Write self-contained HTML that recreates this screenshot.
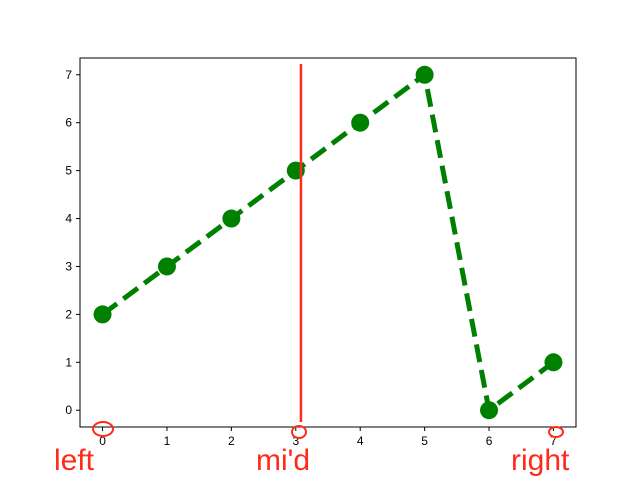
<!DOCTYPE html>
<html><head><meta charset="utf-8"><style>
body{margin:0;background:#fff}
svg text{font-family:"Liberation Sans","DejaVu Sans",sans-serif}
</style></head><body>
<svg width="640" height="480" viewBox="0 0 640 480">
<rect width="640" height="480" fill="#fff"/>
<g id="plot"></g>
</svg>
<script>
const xValues=[0,1,2,3,4,5,6,7];
const yValues=[2,3,4,5,6,7,0,1];
const xTicks=[0,1,2,3,4,5,6,7];
const yTicks=[0,1,2,3,4,5,6,7];
const vlineX=3.08;
const L=80,R=576,T=58,B=427;
const xmin=-0.35,xmax=7.35,ymin=-0.35,ymax=7.35;
const sx=v=>L+(v-xmin)/(xmax-xmin)*(R-L);
const sy=v=>B-(v-ymin)/(ymax-ymin)*(B-T);
const ns='http://www.w3.org/2000/svg';
const g=document.getElementById('plot');
function mk(t,a,p){const e=document.createElementNS(ns,t);for(const k in a)e.setAttribute(k,a[k]);(p||g).appendChild(e);return e;}
const frame=mk('rect',{x:L,y:T,width:R-L,height:B-T,fill:'none',stroke:'#000','stroke-width':1});


xTicks.forEach(v=>{
 const l=mk('line',{x1:sx(v),x2:sx(v),y1:B,y2:B+4,stroke:'#000'});
 
 
 const t=mk('text',{x:sx(v),y:B+18,'font-size':12,'text-anchor':'middle'});t.textContent=v;
 
 
});
yTicks.forEach(v=>{
 const l=mk('line',{x1:L-4,x2:L,y1:sy(v),y2:sy(v),stroke:'#000'});
 
 
 const t=mk('text',{x:L-8,y:sy(v)+4,'font-size':12,'text-anchor':'end'});t.textContent=v;
 
 
});
const pts=xValues.map((x,i)=>sx(x)+','+sy(yValues[i])).join(' ');
const pl=mk('polyline',{points:pts,fill:'none',stroke:'#008000','stroke-width':5,'stroke-dasharray':'18 8'});


xValues.forEach((x,i)=>{
 const c=mk('circle',{cx:sx(x),cy:sy(yValues[i]),r:9,fill:'#008000'});
 
 
});
const vl=mk('line',{x1:sx(vlineX),x2:sx(vlineX),y1:64,y2:422,stroke:'#ff2a1a','stroke-width':2.5});


[[103,429,10,7,'left-ellipse'],[299,432,7,6,'mid-ellipse'],[556,432,7,5,'right-ellipse']].forEach(a=>{
 const e=mk('ellipse',{cx:a[0],cy:a[1],rx:a[2],ry:a[3],fill:'none',stroke:'#ff2a1a','stroke-width':2});
 
 
});
[[54,'left','left-label'],[256,"mi'd",'mid-label'],[511,'right','right-label']].forEach(a=>{
 const t=mk('text',{x:a[0],y:470,'font-size':30,fill:'#ff2a1a'});t.textContent=a[1];
 
 
});
</script>
</body></html>
